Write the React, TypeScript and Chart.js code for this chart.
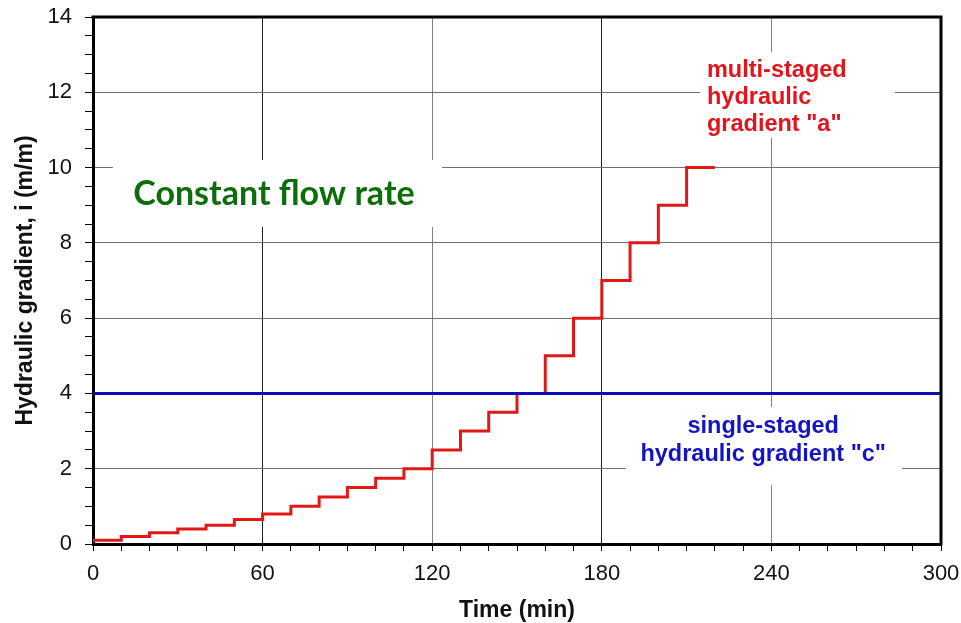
import React, { useEffect, useRef } from 'react';
import { Chart, registerables } from 'chart.js';

Chart.register(...registerables);

// ---- data ----
const stageTimes = [0, 10, 20, 30, 40, 50, 60, 70, 80, 90, 100, 110, 120, 130, 140, 150, 160, 170, 180, 190, 200, 210, 220];
const multiStagedGradient = [0.1, 0.2, 0.3, 0.4, 0.5, 0.65, 0.8, 1.0, 1.25, 1.5, 1.75, 2.0, 2.5, 3.0, 3.5, 4.0, 5, 6, 7, 8, 9, 10, 10];
const singleStagedTimes = [0, 300];
const singleStagedGradient = [4, 4];

const xMin = 0;
const xMax = 300;
const xMajorStep = 60;
const xMinorStep = 10;
const yMin = 0;
const yMax = 14;
const yMajorStep = 2;
const yMinorStep = 0.5;

const xTitle = 'Time (min)';
const yTitle = 'Hydraulic gradient, i (m/m)';

const constantLines = ['Constant flow rate'];
const multiLines = ['multi-staged', 'hydraulic', 'gradient "a"'];
const singleLines = ['single-staged', 'hydraulic gradient "c"'];

const FONT = "'Liberation Sans', Arial, sans-serif";

// plot frame (pixels) of the reference
const FRAME = { left: 93, top: 17, right: 941, bottom: 544, canvasH: 623 };

// annotations: anchor + white box, in data units
const annotations = [
  {
    lines: constantLines, x: 64, y: 9.0, align: 'center' as CanvasTextAlign,
    font: "bold 34px Lato, 'Liberation Sans', sans-serif", color: '#0b6e0b', lineHeight: 0,
    box: [7, 123.5, 8.42, 10.2],
  },
  {
    lines: multiLines, x: 217.2, y: 12.41, align: 'left' as CanvasTextAlign,
    font: `bold 23.5px ${FONT}`, color: '#e3141b', lineHeight: 27,
    box: [214.7, 283.7, 10.79, 13.07],
  },
  {
    lines: singleLines, x: 237.1, y: 2.95, align: 'center' as CanvasTextAlign,
    font: `bold 23.5px ${FONT}`, color: '#1414c4', lineHeight: 28,
    box: [188.6, 286.2, 1.57, 3.64],
  },
];

const framePlugin = {
  id: 'fixedFrame',
  afterLayout(chart: any) {
    const { left, top, right, bottom, canvasH } = FRAME;
    const area = chart.chartArea;
    area.left = left; area.top = top; area.right = right; area.bottom = bottom;
    area.width = right - left; area.height = bottom - top;
    const xs = chart.scales.x;
    const ys = chart.scales.y;
    xs.left = left; xs.right = right; xs.width = right - left;
    xs.top = bottom; xs.bottom = canvasH; xs.height = canvasH - bottom;
    ys.left = 0; ys.right = left; ys.width = left;
    ys.top = top; ys.bottom = bottom; ys.height = bottom - top;
    xs.configure();
    ys.configure();
  },
};

const annotationPlugin = {
  id: 'textBoxes',
  beforeDatasetsDraw(chart: any) {
    const { ctx } = chart;
    const xs = chart.scales.x;
    const ys = chart.scales.y;
    ctx.save();
    for (const a of annotations) {
      const bx0 = xs.getPixelForValue(a.box[0]);
      const bx1 = xs.getPixelForValue(a.box[1]);
      const by0 = ys.getPixelForValue(a.box[3]);
      const by1 = ys.getPixelForValue(a.box[2]);
      ctx.fillStyle = '#ffffff';
      ctx.fillRect(bx0, by0, bx1 - bx0, by1 - by0);
      ctx.font = a.font;
      ctx.fillStyle = a.color;
      ctx.textAlign = a.align;
      ctx.textBaseline = 'alphabetic';
      const tx = xs.getPixelForValue(a.x);
      const ty = ys.getPixelForValue(a.y);
      a.lines.forEach((l, i) => ctx.fillText(l, tx, ty + i * a.lineHeight));
    }
    ctx.restore();
  },
  afterDraw(chart: any) {
    const { ctx, chartArea } = chart;
    ctx.save();
    ctx.strokeStyle = '#000';
    ctx.lineWidth = 3;
    ctx.beginPath();
    ctx.moveTo(chartArea.left - 1.5, chartArea.top);
    ctx.lineTo(chartArea.right, chartArea.top);
    ctx.lineTo(chartArea.right, chartArea.bottom + 1.5);
    ctx.stroke();
    ctx.restore();
  },
};

export default function App() {
  const canvasRef = useRef<HTMLCanvasElement | null>(null);

  useEffect(() => {
    if (!canvasRef.current) return;
    const chart = new Chart(canvasRef.current, {
      type: 'line',
      data: {
        datasets: [
          {
            label: 'single-staged',
            data: singleStagedTimes.map((t, i) => ({ x: t, y: singleStagedGradient[i] })),
            borderColor: '#0c0cb4',
            borderWidth: 3,
            pointRadius: 0,
            fill: false,
          },
          {
            label: 'multi-staged',
            data: stageTimes.map((t, i) => ({ x: t, y: multiStagedGradient[i] })),
            borderColor: '#e01818',
            borderWidth: 3,
            pointRadius: 0,
            stepped: 'before',
            fill: false,
          },
        ],
      },
      options: {
        animation: false,
        responsive: false,
        devicePixelRatio: 1,
        layout: { padding: { top: 17, right: 20, left: 0, bottom: 0 } },
        plugins: { legend: { display: false }, tooltip: { enabled: false } },
        scales: {
          x: {
            type: 'linear',
            min: xMin,
            max: xMax,
            afterFit: (s: any) => { s.height = 79; },
            ticks: {
              stepSize: xMinorStep,
              autoSkip: false,
              maxRotation: 0,
              padding: 10,
              color: '#111',
              font: { family: FONT, size: 22 },
              callback: (v: any) => (Number(v) % xMajorStep === 0 ? String(v) : ''),
            },
            grid: {
              color: (c: any) => {
                const v = c.tick ? c.tick.value : -1;
                if (v % xMajorStep !== 0 || v === xMin || v === xMax) return 'rgba(0,0,0,0)';
                return (v / xMajorStep) % 2 === 1 ? '#222' : '#808080';
              },
              lineWidth: 1,
              tickLength: 7,
              tickColor: '#000',
              tickWidth: 1,
            },
            border: { color: '#000', width: 3 },
            title: {
              display: true,
              text: xTitle,
              color: '#111',
              font: { family: FONT, size: 23, weight: 'bold', lineHeight: 1 },
              padding: { top: 0, bottom: 1 },
            },
          },
          y: {
            type: 'linear',
            min: yMin,
            max: yMax,
            afterFit: (s: any) => { s.width = 93; },
            ticks: {
              stepSize: yMinorStep,
              autoSkip: false,
              padding: 13,
              color: '#111',
              font: { family: FONT, size: 22 },
              callback: (v: any) => (Number(v) % yMajorStep === 0 ? String(v) : ''),
            },
            grid: {
              color: (c: any) => {
                const v = c.tick ? c.tick.value : -1;
                if (v % yMajorStep !== 0 || v === yMin || v === yMax) return 'rgba(0,0,0,0)';
                return '#707070';
              },
              lineWidth: 1,
              tickLength: 8,
              tickColor: '#000',
              tickWidth: 1,
            },
            border: { color: '#000', width: 3 },
            title: {
              display: true,
              text: yTitle,
              color: '#111',
              font: { family: FONT, size: 23, weight: 'bold', lineHeight: 1 },
              padding: { top: 14, bottom: 0 },
            },
          },
        },
      },
      plugins: [framePlugin, annotationPlugin],
    } as any);
    return () => chart.destroy();
  }, []);

  return (
    <div style={{ position: 'absolute', left: 0, top: 0, width: 961, height: 623, background: '#fff' }}>
      <canvas ref={canvasRef} width={961} height={623} />
    </div>
  );
}
